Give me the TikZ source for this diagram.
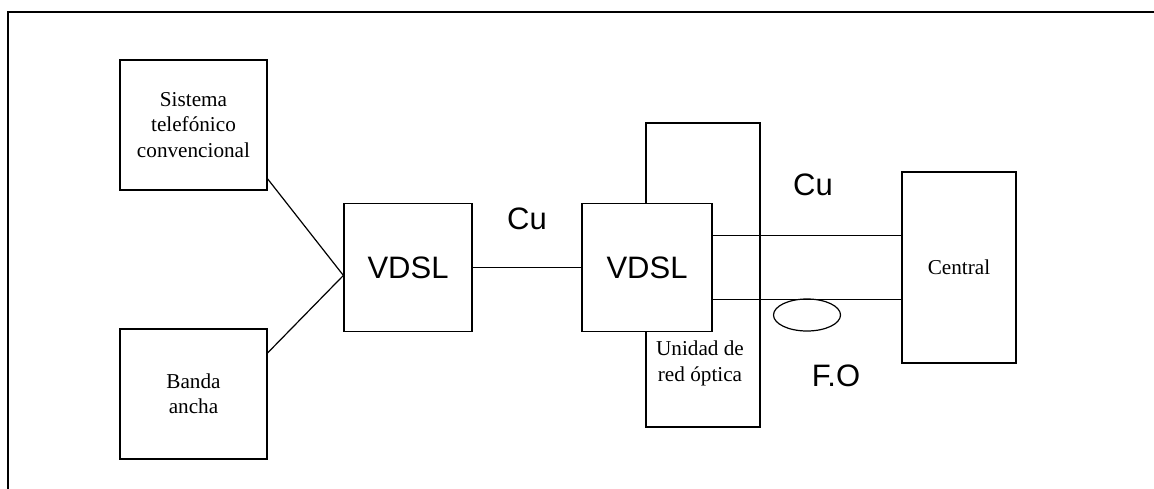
\documentclass[tikz,border=0pt]{standalone}
\usepackage{fontspec}
\setmainfont{Liberation Serif}
\setsansfont{Liberation Sans}
\usetikzlibrary{shapes.geometric}

\begin{document}
\begin{tikzpicture}[
    x=0.5pt, y=-0.5pt,
    box/.style={
        rectangle, draw=black, fill=white,
        line width=0.6pt, inner sep=0pt,
        align=center,
        font=\fontsize{10.6}{12.6}\selectfont
    },
    modem/.style={box, minimum width=64pt, minimum height=64pt,
        font=\sffamily\fontsize{15.5}{18}\selectfont},
    medio/.style={font=\sffamily\fontsize{15.5}{18}\selectfont, inner sep=0pt},
    wire/.style={line width=0.6pt},
]

\useasboundingbox (0,0) rectangle (1154,488);

% outer frame (cut at the right and bottom)
\begin{scope}
    \clip (0,0) rectangle (1154,488);
    \draw[line width=0.8pt] (8,12) rectangle (1170,500);
\end{scope}

% LEFT: terminal equipment
\node[box, minimum width=73.5pt, minimum height=65pt] (sist) at (193.5,125)
    {Sistema\\telefónico\\convencional};
\node[box, minimum width=73.5pt, minimum height=65pt] (banda) at (193.5,394)
    {Banda\\ancha};

\node[modem] (vdslA) at (408,267.5) {VDSL};

\draw[wire] (sist.-36) -- (vdslA.187);
\draw[wire] (banda.29) -- (vdslA.187);

% MIDDLE: optical network unit
\node[box, minimum width=57pt, minimum height=152pt] (onu) at (703,275) {};
\node[font=\fontsize{10.6}{12.9}\selectfont, align=center, inner sep=0pt] (onu-txt) at (700,363)
    {Unidad de\\red óptica};

\node[modem, minimum width=65pt] (vdslB) at (647,267.5) {VDSL};

\draw[wire] (vdslA.east) -- (vdslB.west);
\node[medio] (cuA) at (527,218.5) {Cu};

% RIGHT: exchange
\node[box, minimum width=57pt, minimum height=95.5pt] (central) at (959,267.5) {Central};

\draw[wire] ([yshift=16pt]vdslB.east) -- ([yshift=16pt]central.west);
\draw[wire] ([yshift=-16pt]vdslB.east) -- ([yshift=-16pt]central.west);

\node[ellipse, draw, line width=0.6pt, minimum width=33.5pt, minimum height=16pt, inner sep=0pt]
    (fibra) at (807,315) {};

\node[medio] (cuB) at (813,185) {Cu};
\node[medio] (fo) at (836,376) {F.O};

\end{tikzpicture}
\end{document}
